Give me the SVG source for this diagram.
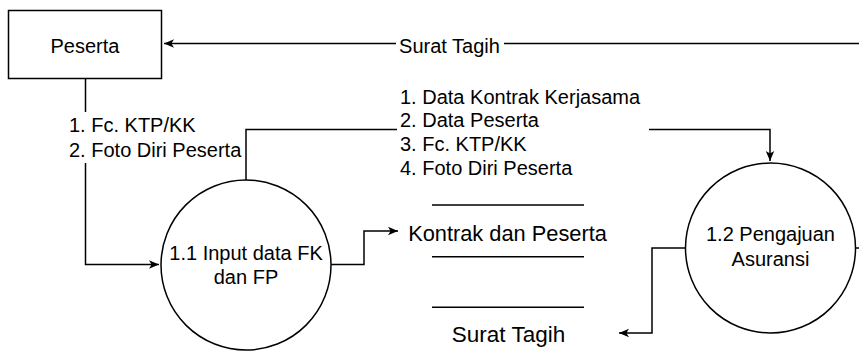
<svg xmlns="http://www.w3.org/2000/svg" width="859" height="356" viewBox="0 0 859 356">
<defs>
<style>
.t{font-family:"Liberation Sans",Arial,sans-serif;font-size:20px;fill:#000}
.c{text-anchor:middle}
.ln{fill:none;stroke:#000;stroke-width:1.5}
.shape{fill:#fff;stroke:#000;stroke-width:1.5}
</style>
<marker id="arr" markerUnits="userSpaceOnUse" markerWidth="12" markerHeight="10" refX="10" refY="5" orient="auto">
<path d="M0,0.8 L10,5 L0,9.2 L2.6,5 Z" fill="#000"/>
</marker>
</defs>
<rect width="859" height="356" fill="#fff"/>
<g id="connectors">
<path class="ln" d="M856,248 H880 V43.5 H164" marker-end="url(#arr)"/>
<rect x="396" y="32" width="108" height="26" fill="#fff"/>
<text class="t c" x="449.5" y="52.5">Surat Tagih</text>
<path class="ln" d="M85.5,79 V264.5 H159" marker-end="url(#arr)"/>
<rect x="66" y="112" width="180" height="51" fill="#fff"/>
<text class="t" x="69" y="131.5">1. Fc. KTP/KK</text>
<text class="t" x="69" y="156.5">2. Foto Diri Peserta</text>
<path class="ln" d="M246,180 V129.5 H770 V161" marker-end="url(#arr)"/>
<rect x="397" y="84" width="252" height="98" fill="#fff"/>
<text class="t" x="400" y="103.5">1. Data Kontrak Kerjasama</text>
<text class="t" x="400" y="127.2">2. Data Peserta</text>
<text class="t" x="400" y="150.9">3. Fc. KTP/KK</text>
<text class="t" x="400" y="174.6">4. Foto Diri Peserta</text>
<path class="ln" d="M331,264.5 H364 V231 H398" marker-end="url(#arr)"/>
<path class="ln" d="M685,248 H652 V333 H619" marker-end="url(#arr)"/>
</g>
<g id="peserta">
<rect class="shape" x="8.5" y="10.5" width="153" height="68"/>
<text class="t c" x="85" y="52.5">Peserta</text>
</g>
<g id="proc-1-1">
<circle class="shape" cx="246" cy="265" r="85"/>
<text class="t c" x="246" y="259.5">1.1 Input data FK</text>
<text class="t c" x="246" y="284">dan FP</text>
</g>
<g id="proc-1-2">
<circle class="shape" cx="770.5" cy="248" r="85"/>
<text class="t c" x="770.5" y="241">1.2 Pengajuan</text>
<text class="t c" x="770.5" y="265.5">Asuransi</text>
</g>
<g id="store-kontrak">
<path class="ln" d="M432,205 H584 M432,256.7 H584"/>
<text class="t c" x="507.5" y="240.7" style="font-size:21.8px">Kontrak dan Peserta</text>
</g>
<g id="store-surat">
<path class="ln" d="M432,307.3 H584 M432,359 H584"/>
<text class="t c" x="508.5" y="341.7" style="font-size:22.5px">Surat Tagih</text>
</g>
</svg>
